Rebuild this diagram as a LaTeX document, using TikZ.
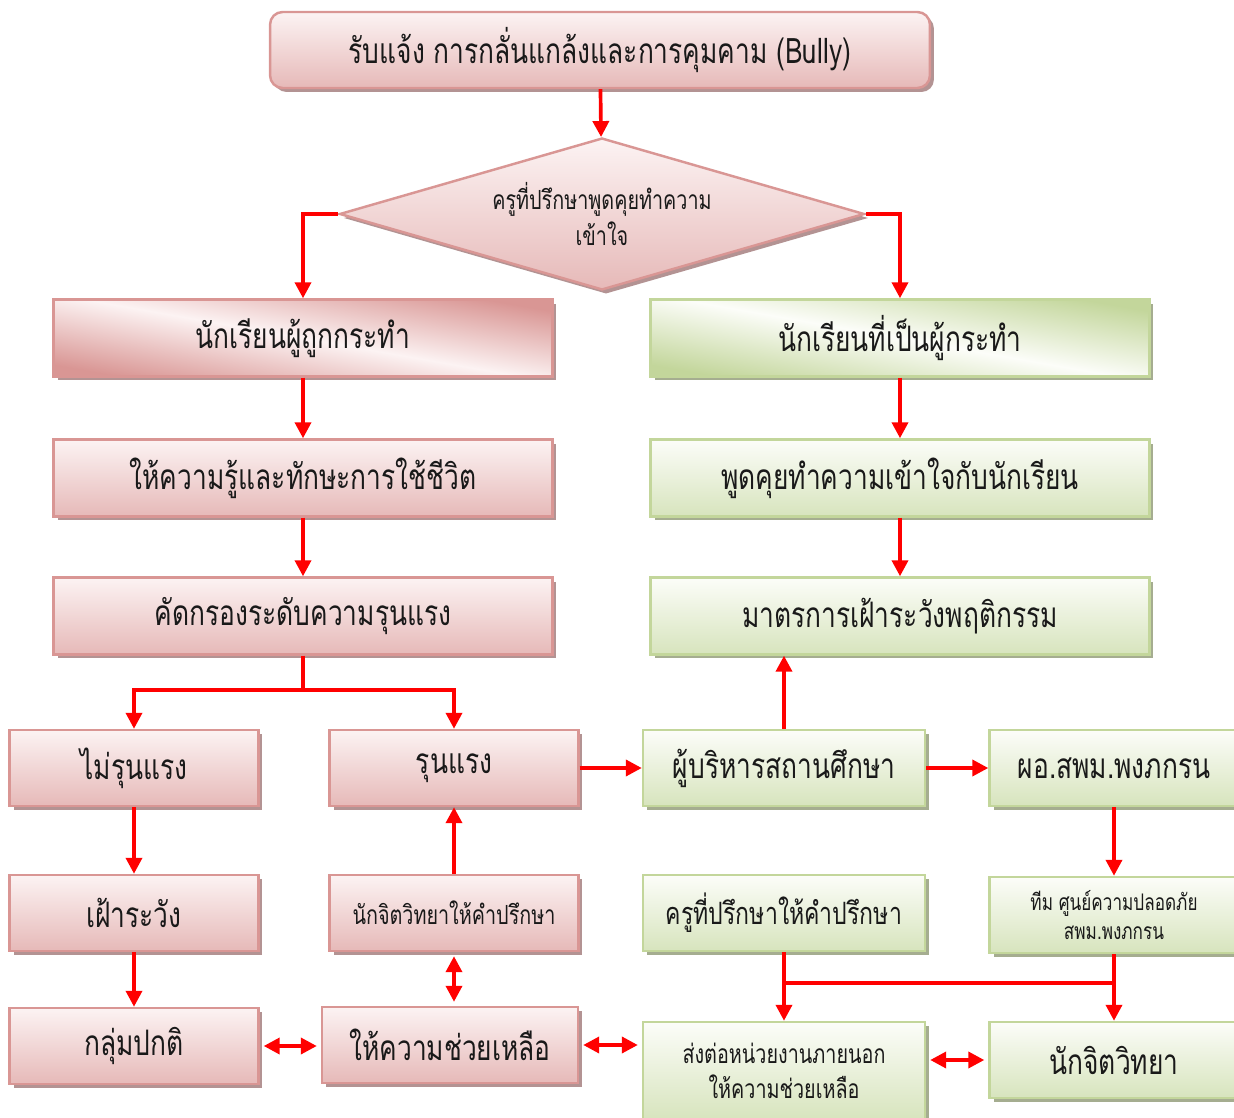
\documentclass[tikz,border=0pt]{standalone}
\usepackage{fontspec}
\setmainfont[Script=Thai,FakeStretch=0.75]{Loma}
\usetikzlibrary{arrows.meta,shapes.geometric,shadows}

\definecolor{pinkline}{HTML}{D99694}
\definecolor{pinktop}{HTML}{FCF3F3}
\definecolor{pinkbot}{HTML}{E6B9B8}
\definecolor{pinkshade}{HTML}{B39393}
\definecolor{greenline}{HTML}{C3D69B}
\definecolor{greentop}{HTML}{FCFDF9}
\definecolor{greenbot}{HTML}{D7E4BD}
\definecolor{greenshade}{HTML}{A5AD90}

\begin{document}
\begin{tikzpicture}[x=0.02cm, y=-0.02cm,
    box/.style={line width=1.4pt, inner sep=0pt, minimum height=1.52cm, align=center, text=black!90},
    pinkbox/.style={box, draw=pinkline, top color=pinktop, bottom color=pinkbot,
        drop shadow={fill=pinkshade, opacity=1, shadow xshift=0.08cm, shadow yshift=-0.08cm}},
    greenbox/.style={box, draw=greenline, top color=greentop, bottom color=greenbot,
        drop shadow={fill=greenshade, opacity=1, shadow xshift=0.08cm, shadow yshift=-0.08cm}},
    pinkgloss/.style={pinkbox, top color=pinkline, bottom color=pinkline, middle color=pinktop, shading angle=-10},
    greengloss/.style={greenbox, top color=greenline, bottom color=greenline, middle color=greentop, shading angle=-10},
    wide/.style={minimum width=9.98cm, minimum height=1.54cm},
    mid/.style={minimum width=5.64cm},
    narrow/.style={minimum width=4.98cm},
    bigtxt/.style={font=\fontsize{20}{24}\selectfont},
    smalltxt/.style={font=\fontsize{15}{20}\selectfont},
    link/.style={red, line width=2.1pt},
    arr/.style={link, -{Triangle[length=0.32cm,width=0.32cm]}},
    dbl/.style={link, {Triangle[length=0.32cm,width=0.32cm]}-{Triangle[length=0.32cm,width=0.32cm]},
        shorten <=0.08cm, shorten >=0.08cm}]
    \useasboundingbox (0,0) rectangle (1234,1118);

    % top of the chart
    \node[pinkbox, bigtxt, rounded corners=0.25cm, minimum width=13.2cm] (report) at (600,50) {รับแจ้ง การกลั่นแกล้งและการคุมคาม (Bully)};
    \node[pinkbox, smalltxt, shape=diamond, aspect=3.45, minimum width=10.5cm, minimum height=3.04cm] (meet) at (602,214) {ครูที่ปรึกษาพูดคุยทำความ\\เข้าใจ};

    % two columns
    \node[pinkgloss, wide, bigtxt] (victim) at (303,338) {นักเรียนผู้ถูกกระทำ};
    \node[pinkbox, wide, bigtxt] (skills) at (303,478) {ให้ความรู้และทักษะการใช้ชีวิต};
    \node[pinkbox, wide, bigtxt] (screen) at (303,616) {คัดกรองระดับความรุนแรง};
    \node[greengloss, wide, bigtxt] (bully) at (900,338) {นักเรียนที่เป็นผู้กระทำ};
    \node[greenbox, wide, bigtxt] (talk) at (900,478) {พูดคุยทำความเข้าใจกับนักเรียน};
    \node[greenbox, wide, bigtxt] (watchplan) at (900,616) {มาตรการเฝ้าระวังพฤติกรรม};

    % lower grid
    \node[pinkbox, narrow, bigtxt] (mild) at (134,768) {ไม่รุนแรง};
    \node[pinkbox, narrow, bigtxt] (severe) at (454,768) {รุนแรง};
    \node[greenbox, mid, bigtxt] (admin) at (784,768) {ผู้บริหารสถานศึกษา};
    \node[greenbox, narrow, bigtxt] (office) at (1114,768) {ผอ.สพม.พงภกรน};
    \node[pinkbox, narrow, bigtxt] (watch) at (134,913) {เฝ้าระวัง};
    \node[pinkbox, narrow, smalltxt] (psycare) at (454,913) {นักจิตวิทยาให้คำปรึกษา};
    \node[greenbox, mid, font=\fontsize{17.5}{21}\selectfont] (advise) at (784,913) {ครูที่ปรึกษาให้คำปรึกษา};
    \node[greenbox, narrow, font=\fontsize{13}{17}\selectfont] (team) at (1114,915) {ทีม ศูนย์ความปลอดภัย\\สพม.พงภกรน};
    \node[pinkbox, narrow, bigtxt] (normal) at (134,1046) {กลุ่มปกติ};
    \node[pinkbox, bigtxt, minimum width=5.12cm] (help) at (450,1045) {ให้ความช่วยเหลือ};
    \node[greenbox, mid, smalltxt, minimum height=1.96cm] (refer) at (784,1071) {ส่งต่อหน่วยงานภายนอก\\ให้ความช่วยเหลือ};
    \node[greenbox, narrow, bigtxt] (psych) at (1114,1060) {นักจิตวิทยา};

    \coordinate (split) at (303,690);
    \coordinate (join) at (784,983);

    % connectors
    \path[arr] (report) edge (meet);
    \draw[arr] (meet.west) -| (victim.north);
    \draw[arr] (meet.east) -| (bully.north);
    \path[arr] (victim) edge (skills);
    \path[arr] (skills) edge (screen);
    \path[arr] (bully) edge (talk);
    \path[arr] (talk) edge (watchplan);
    \draw[arr] (screen.south) -- (split) -| (mild.north);
    \draw[arr] (split) -| (severe.north);
    \path[arr] (admin.north) edge (admin.north |- watchplan.south);
    \path[arr] (severe) edge (admin);
    \path[arr] (admin) edge (office);
    \path[arr] (mild) edge (watch);
    \path[arr] (watch) edge (normal);
    \path[arr] (psycare) edge (severe);
    \path[arr] (office) edge (team);
    \path[dbl] (psycare.south) edge (psycare.south |- help.north);
    \path[dbl] (normal.east) edge (normal.east -| help.west);
    \path[dbl] (help.east) edge (help.east -| refer.west);
    \path[dbl] (psych.west -| refer.east) edge (psych.west);
    \path[arr] (advise) edge (refer);
    \path[arr] (team) edge (psych);
    \draw[link] (join) -- (join -| team.south);
\end{tikzpicture}
\end{document}
